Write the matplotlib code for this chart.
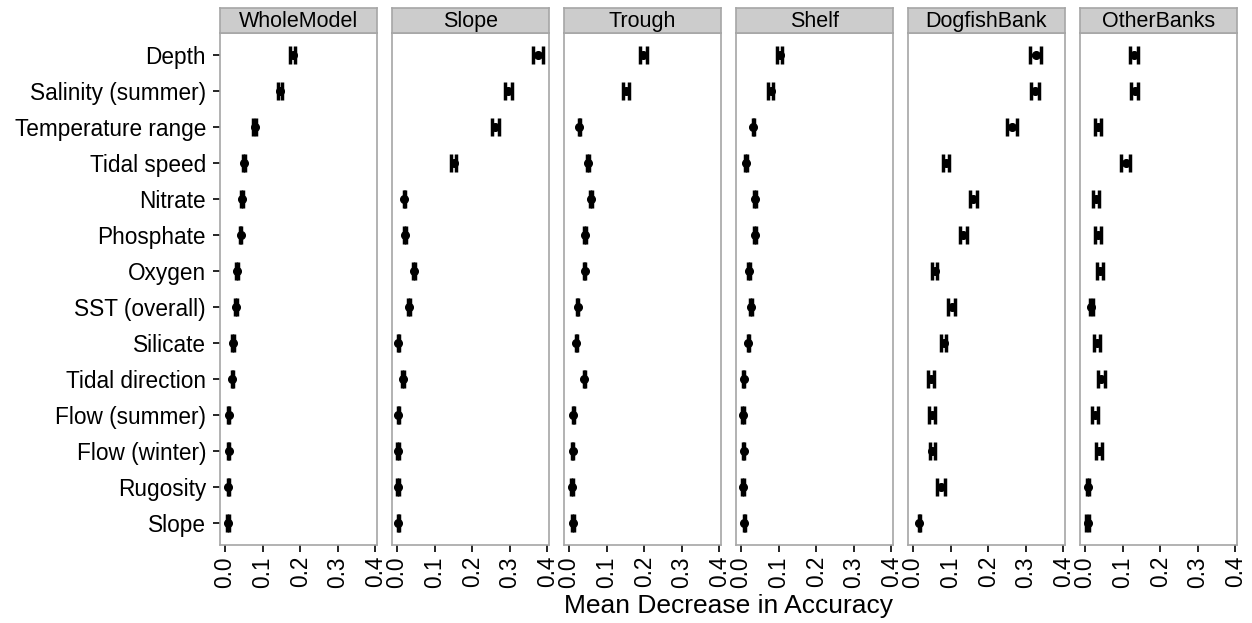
import numpy as np
import matplotlib
matplotlib.use("Agg")
import matplotlib.pyplot as plt

plt.rcParams['font.family'] = ['Liberation Sans', 'DejaVu Sans']

# variables, top to bottom
variables = ['Depth', 'Salinity (summer)', 'Temperature range', 'Tidal speed',
             'Nitrate', 'Phosphate', 'Oxygen', 'SST (overall)', 'Silicate',
             'Tidal direction', 'Flow (summer)', 'Flow (winter)', 'Rugosity', 'Slope']

models = ['WholeModel', 'Slope', 'Trough', 'Shelf', 'DogfishBank', 'OtherBanks']

# mean decrease in accuracy
whole_mean = [0.180, 0.146, 0.079, 0.051, 0.046, 0.042, 0.032, 0.030, 0.021, 0.020, 0.010, 0.010, 0.009, 0.008]
whole_err = [0.007, 0.006, 0.003, 0.002, 0.002, 0.002, 0.002, 0.002, 0.002, 0.002, 0.002, 0.002, 0.002, 0.002]
slope_mean = [0.375, 0.296, 0.262, 0.151, 0.020, 0.022, 0.045, 0.033, 0.004, 0.016, 0.004, 0.003, 0.003, 0.004]
slope_err = [0.014, 0.010, 0.010, 0.007, 0.002, 0.002, 0.003, 0.003, 0.002, 0.002, 0.002, 0.002, 0.002, 0.002]
trough_mean = [0.198, 0.153, 0.028, 0.051, 0.058, 0.043, 0.042, 0.023, 0.020, 0.041, 0.012, 0.010, 0.008, 0.011]
trough_err = [0.009, 0.008, 0.002, 0.002, 0.003, 0.002, 0.002, 0.002, 0.002, 0.002, 0.002, 0.002, 0.002, 0.002]
shelf_mean = [0.103, 0.079, 0.033, 0.013, 0.037, 0.038, 0.021, 0.027, 0.020, 0.007, 0.006, 0.007, 0.005, 0.009]
shelf_err = [0.006, 0.006, 0.002, 0.002, 0.002, 0.002, 0.002, 0.002, 0.002, 0.002, 0.002, 0.002, 0.002, 0.002]
dogfish_mean = [0.326, 0.324, 0.264, 0.088, 0.160, 0.134, 0.058, 0.103, 0.082, 0.048, 0.052, 0.052, 0.074, 0.017]
dogfish_err = [0.014, 0.010, 0.013, 0.008, 0.009, 0.009, 0.006, 0.009, 0.007, 0.008, 0.008, 0.007, 0.011, 0.002]
other_mean = [0.130, 0.132, 0.035, 0.108, 0.030, 0.036, 0.041, 0.017, 0.033, 0.044, 0.028, 0.037, 0.009, 0.007]
other_err = [0.010, 0.009, 0.008, 0.011, 0.008, 0.008, 0.008, 0.004, 0.008, 0.009, 0.008, 0.008, 0.003, 0.003]

means = [whole_mean, slope_mean, trough_mean, shelf_mean, dogfish_mean, other_mean]
errs = [whole_err, slope_err, trough_err, shelf_err, dogfish_err, other_err]

border = '#a6a6a6'
fs = 16.3

fig, axes = plt.subplots(1, 6, figsize=(12.52, 6.23), dpi=100, sharey=True)
fig.subplots_adjust(left=0.1757, right=0.988, top=0.947, bottom=0.1252, wspace=0.096)

ypos = np.arange(len(variables))[::-1] + 1

for ax, name, m, e in zip(axes, models, means, errs):
    ax.errorbar(m, ypos, xerr=e, fmt='o', color='black', ms=5.5,
                elinewidth=2.5, capsize=6.5, capthick=2.5)
    ax.set_xlim(-0.013, 0.404)
    ax.set_ylim(0.4, 14.6)
    ax.set_xticks([0.0, 0.1, 0.2, 0.3, 0.4])
    ax.set_xticklabels(['0.0', '0.1', '0.2', '0.3', '0.4'], rotation=90, fontsize=fs)
    for s in ax.spines.values():
        s.set_color(border)
        s.set_linewidth(1.2)
    ax.tick_params(axis='both', color='black', length=5, width=1.2, labelsize=fs, pad=3)
    # strip on top of the panel
    pos = ax.get_position()
    sax = fig.add_axes([pos.x0, pos.y1, pos.width, 25 / 623])
    sax.set_facecolor('#cccccc')
    sax.set_xticks([])
    sax.set_yticks([])
    for s in sax.spines.values():
        s.set_color(border)
        s.set_linewidth(1.2)
    sax.text(0.5, 0.45, name, ha='center', va='center', fontsize=15.5, transform=sax.transAxes)

axes[0].set_yticks(ypos)
axes[0].set_yticklabels(variables, fontsize=fs)
axes[0].tick_params(axis='y', pad=5)
for ax in axes[1:]:
    ax.tick_params(axis='y', left=False, labelleft=False)

fig.text(0.5 * (0.1757 + 0.988), 0.008, 'Mean Decrease in Accuracy', ha='center', va='bottom', fontsize=19)

fig.savefig('out.png', dpi=100)
